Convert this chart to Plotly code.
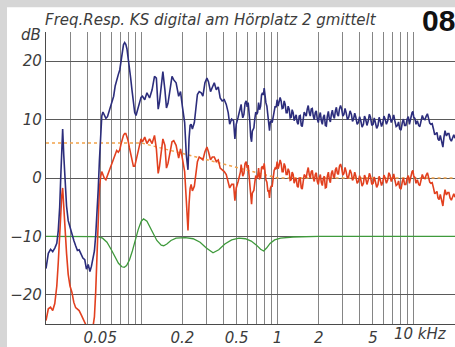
import plotly.graph_objects as go

# Frequency grid of the measured responses (Hz)
freq_hz = [
    20, 20.8, 21.6, 22.4, 23.2, 24, 24.6, 25.2, 25.7, 26.1, 26.5, 27, 27.6, 28.3, 29.1,
    30, 31, 32, 33, 34, 35, 36.2, 37.3, 38.5, 39.6, 40.8, 42, 43.1, 44.2, 45.3, 46.3,
    47.3, 48.3, 49.3, 50.3, 51.3, 52.3, 53.5, 55, 56.5, 58, 59.5, 61, 62.7, 64.4, 66,
    67.8, 69.5, 71, 72.5, 74, 75.5, 77, 78.5, 80, 81.8, 83.5, 85.5, 87.5, 89.5, 91.5,
    93.5, 95.5, 97.5, 99.5,
    102, 106, 110, 115, 120, 125, 129, 133, 136, 139, 144, 149, 153, 157, 161, 168, 173,
    180, 188, 194, 200, 204, 208, 214, 217, 220, 224, 228, 232, 237, 245, 251, 258, 266,
    275, 283, 293, 303, 311, 322, 332, 343, 355, 367, 379, 392, 406, 420, 434, 445, 460,
    475, 486, 497, 513,
    534, 540, 545, 555, 566, 577, 588, 598, 608, 617, 626, 635, 644, 652, 661, 670, 680,
    691, 702, 713, 725, 737, 750, 762, 775, 786, 797, 808, 820, 834, 848, 860, 872, 884,
    897, 912, 927, 943, 959, 975, 992, 1009, 1026, 1043, 1061, 1079, 1098, 1117, 1136,
    1155, 1175, 1195, 1216, 1236, 1257, 1278, 1300, 1322, 1345, 1368, 1392, 1416, 1440,
    1465, 1490, 1515, 1541, 1567, 1594, 1621, 1649, 1677, 1706, 1735, 1765, 1795, 1826,
    1857, 1889, 1921, 1954, 1988, 2022, 2057, 2092, 2128, 2164, 2201, 2239, 2277, 2316,
    2356, 2396, 2437, 2478, 2521, 2564, 2608, 2653, 2698, 2744, 2791, 2839, 2894,
    2950, 3007, 3064, 3122, 3180, 3251, 3324, 3399, 3475, 3541, 3608, 3677, 3747, 3831,
    3916, 3994, 4073, 4164, 4258, 4339, 4421, 4520, 4622, 4710, 4800, 4908, 5018, 5114,
    5211, 5328, 5448, 5552, 5658, 5785, 5914, 6027, 6142, 6280, 6421, 6543, 6668, 6818,
    6971, 7104, 7240, 7402, 7568, 7713, 7860, 8036, 8217, 8374, 8533, 8725, 8921, 9091,
    9264, 9472, 9685, 9825, 9966, 10160, 10350, 10590, 10830, 11040, 11250, 11510, 11770,
    12030, 12300, 12550, 12800, 13050, 13300, 13600, 13900, 14200, 14500, 14750, 15000,
    15300, 15600, 15950, 16300, 16600, 16900, 17300, 17700, 18050, 18400, 18800, 19200,
    19600, 20000,
]

# Response without correction (dB)
resp_plain = [
    -15.5, -12.9, -12.2, -12.6, -12.0, -11.2, -9.0, -5.0, 0.6, 5.0, 8.4, 3.9, -1.0, -4.8, -7.3,
    -8.5, -9.6, -10.7, -11.6, -12.4, -12.3, -13.0, -13.7, -14.0, -15.6, -14.8, -16.0, -15.1, -14.0, -12.5, -9.8,
    -6.5, -2.0, 3.0, 7.8, 10.6, 11.3, 10.7, 10.2, 10.5, 11.4, 12.2, 13.0, 14.0, 15.8, 17.0,
    17.7, 18.5, 20.0, 21.8, 22.8, 23.2, 22.9, 22.1, 20.8, 19.0, 17.2, 15.0, 13.2, 11.2, 10.7,
    11.5, 12.6, 13.5, 13.8,
    14.0, 13.4, 14.6, 13.7, 15.1, 17.4, 17.1, 11.8, 13.0, 15.1, 18.2, 15.1, 12.0, 12.8, 14.6, 17.4, 16.8,
    16.3, 14.0, 14.8, 12.3, 10.5, 9.5, 3.9, 1.8, 1.4, 6.7, 9.0, 9.2, 8.4, 9.5, 12.3, 14.3, 14.8,
    14.6, 14.0, 16.3, 17.1, 16.5, 14.8, 15.6, 16.3, 15.1, 15.6, 13.7, 13.2, 13.4, 12.6, 11.2, 9.2, 10.1,
    9.8, 6.7, 9.2, 10.4,
    11.8, 12.6, 11.5, 10.3, 10.9, 12.8, 13.2, 12.2, 12.9, 11.4, 9.5, 7.0, 6.2, 8.0, 8.4, 8.6, 10.1,
    11.3, 10.9, 11.2, 12.9, 11.7, 12.3, 14.2, 14.6, 14.2, 15.4, 13.4, 12.9, 12.3, 10.6, 9.9, 8.1, 9.6,
    9.8, 9.5, 10.6, 11.9, 12.3, 12.1, 13.4, 12.3, 12.9, 13.8, 13.2, 11.9, 12.0, 13.2, 12.6,
    11.2, 11.2, 12.3, 11.8, 10.3, 10.4, 11.7, 11.2, 9.8, 10.4, 10.8, 9.5, 9.2, 10.6,
    10.7, 9.0, 8.8, 10.1, 11.3, 10.9, 10.6, 11.8, 12.4, 11.2, 10.6, 11.8, 11.9, 10.6,
    10.0, 11.2, 11.5, 10.1, 9.5, 10.6, 11.2, 9.8, 9.2, 10.4, 10.8, 9.0, 8.9, 10.6,
    11.4, 10.1, 9.6, 10.9, 11.6, 10.6, 10.2, 11.5, 12.1, 10.9, 10.6, 11.8, 12.4,
    11.8, 10.6, 10.9, 11.9, 11.2, 10.0, 10.4, 11.5, 10.9, 9.7, 10.1, 11.1, 10.4, 9.2,
    9.5, 10.5, 9.8, 8.7, 9.2, 10.6, 10.1, 9.0, 9.8, 10.9, 10.4, 9.0, 9.2, 10.3,
    9.5, 8.5, 9.0, 10.4, 9.8, 8.8, 9.5, 10.6, 10.1, 9.2, 9.8, 11.0, 10.6, 9.5,
    10.1, 10.8, 9.8, 8.8, 9.0, 9.6, 8.4, 8.2, 9.5, 10.1, 9.0, 9.0, 10.1, 10.5,
    9.2, 10.5, 11.2, 11.4, 10.4, 10.2, 9.2, 9.8, 9.0, 8.8, 9.5, 10.7, 10.1,
    10.0, 10.6, 11.0, 10.2, 9.4, 9.2, 9.3, 8.4, 7.4, 7.6, 7.8, 6.7,
    6.4, 7.3, 6.0, 5.3, 7.0, 8.1, 7.2, 7.6, 7.6, 6.7, 6.3, 7.0,
    7.4, 6.8,
]

# Response with digital room correction (dB)
resp_corr = [
    -24.4, -22.4, -22.1, -22.7, -21.5, -18.5, -14.5, -10.0, -5.0, -3.0, -1.7, -5.0, -9.5, -12.9, -16.5,
    -18.5, -19.6, -21.3, -22.2, -22.4, -22.7, -23.4, -24.0, -24.5, -25.3, -26.0, -26.0, -26.0, -25.5, -23.8, -19.5,
    -13.5, -7.0, -1.8, 0.2, 1.1, 0.6, 0.0, -0.3, 0.4, 1.2, 2.0, 2.7, 3.4, 3.9, 4.7,
    4.4, 4.8, 5.8, 6.7, 7.3, 7.6, 7.6, 7.0, 6.4, 5.2, 4.3, 3.4, 2.0, 2.0, 3.1,
    4.2, 5.0, 6.2, 6.7,
    6.2, 7.0, 5.9, 6.7, 5.9, 7.3, 5.0, 0.8, 2.0, 3.9, 6.7, 5.6, 1.7, 2.5, 3.9, 6.2, 6.4,
    5.6, 3.4, 5.0, 3.4, 2.2, 1.1, -3.9, -7.0, -9.0, -4.5, -1.8, -1.1, -2.2, -1.4, 0.6, 2.8, 3.6,
    3.4, 3.1, 4.5, 5.3, 4.5, 3.1, 3.6, 3.6, 2.8, 3.1, 1.7, 1.4, 1.1, 0.6, -0.6, -1.7, -1.1,
    -1.1, -3.9, -1.7, -0.6,
    1.1, 2.3, 1.7, 0.3, 0.8, 2.5, 2.8, 1.7, 2.2, 0.5, -1.7, -3.9, -4.5, -2.6, -2.2, -2.1, -0.8,
    0.4, 0.0, 0.2, 1.7, -0.1, 0.0, 1.8, 2.0, 1.5, 2.5, 0.4, -0.3, -0.7, -2.2, -2.2, -3.4, -1.8,
    -1.4, -1.4, 0.0, 1.3, 1.7, 1.5, 2.8, 1.6, 2.2, 3.1, 2.5, 1.1, 1.1, 2.5, 2.0,
    0.6, 0.6, 1.6, 1.1, -0.4, -0.3, 1.0, 0.6, -0.9, -0.3, 0.0, -1.4, -1.6, 0.0,
    0.0, -1.7, -1.9, -0.6, 0.6, 0.3, 0.0, 1.1, 1.8, 0.6, 0.0, 1.1, 1.3, 0.0,
    -0.6, 0.6, 0.9, -0.6, -1.1, 0.0, 0.6, -0.8, -1.3, 0.0, 0.3, -1.7, -1.6, 0.3,
    1.0, -0.3, -0.8, 0.8, 1.3, 0.3, 0.0, 1.4, 1.8, 0.8, 0.6, 2.0, 2.4,
    1.7, 0.5, 0.8, 1.8, 1.1, -0.1, 0.3, 1.4, 0.8, -0.4, 0.0, 1.0, 0.3, -0.9,
    -0.6, 0.4, -0.3, -1.4, -0.9, 0.5, 0.0, -1.1, -0.3, 0.8, 0.3, -1.1, -0.9, 0.2,
    -0.6, -1.6, -1.1, 0.3, -0.3, -1.3, -0.6, 0.5, 0.0, -0.9, -0.3, 0.9, 0.5, -0.6,
    0.0, 0.7, -0.3, -1.3, -1.1, -0.5, -1.7, -1.9, -0.6, 0.0, -1.1, -1.1, 0.0, 0.4,
    -0.9, 0.4, 1.1, 1.3, 0.3, 0.1, -0.9, -0.3, -1.1, -1.3, -0.6, 0.6, 0.0,
    -0.1, 0.5, 0.9, 0.1, -0.7, -0.9, -0.8, -1.7, -2.7, -2.5, -2.3, -3.4,
    -3.7, -2.8, -4.1, -4.8, -3.1, -2.0, -2.9, -2.5, -2.5, -3.4, -3.8, -3.1,
    -2.7, -3.3,
]

# Correction filter, drawn with a -10 dB offset
filter_freq_hz = [
    20, 40, 48, 52, 56, 60, 64, 68, 72, 75, 78, 82, 86, 90, 95, 100, 104, 110, 116, 122,
    130, 140, 146, 154, 165, 180, 195, 210, 240, 270, 300, 336, 370, 410, 460, 520, 580,
    640, 700, 750, 790, 830, 880, 950, 1050, 1300, 2000, 20000,
]
filter_db = [
    -10.0, -10.0, -10.05, -10.3, -11.0, -12.2, -13.5, -14.6, -15.2, -15.3, -15.0, -14.0,
    -12.5, -10.8, -8.8, -7.4, -7.0, -7.4, -8.4, -9.6, -10.7, -11.5, -11.6, -11.3, -10.7,
    -10.3, -10.2, -10.2, -10.4, -11.0, -12.0, -12.8, -12.3, -11.3, -10.6, -10.3, -10.4,
    -10.8, -11.5, -12.2, -12.5, -12.0, -11.2, -10.6, -10.3, -10.1, -10.0, -10.0,
]

# Target curve
target_freq_hz = [20, 100, 1000, 20000]
target_db = [6, 6, 0, 0]

# Axis ticks (kHz)
grid_khz = [0.03, 0.04, 0.05, 0.06, 0.07, 0.08, 0.09, 0.1,
            0.2, 0.3, 0.4, 0.5, 0.6, 0.7, 0.8, 0.9, 1,
            2, 3, 4, 5, 6, 7, 8, 9, 10]
labelled_khz = {0.05: "0.05", 0.2: "0.2", 0.5: "0.5", 1: "1", 2: "2", 5: "5"}
y_ticks = [-20, -10, 0, 10, 20]
y_text = ["\u221220", "\u221210", "0", "10", "20"]

W, H = 455, 347
ML, MR, MT, MB = 46, 0, 32, 19
PW, PH = W - ML - MR, H - MT - MB


def px_x(px):
    return (px - ML) / PW


def px_y(py):
    return (H - MB - py) / PH


def khz(values):
    return [v / 1000 for v in values]


fig = go.Figure()
fig.add_trace(go.Scatter(x=khz(filter_freq_hz), y=filter_db, mode="lines",
                         line=dict(color="#3f9a3c", width=1.3), hoverinfo="skip"))
fig.add_trace(go.Scatter(x=khz(target_freq_hz), y=target_db, mode="lines",
                         line=dict(color="#f2a24a", width=1.5, dash="dot"), hoverinfo="skip"))
fig.add_trace(go.Scatter(x=khz(freq_hz), y=resp_corr, mode="lines",
                         line=dict(color="#e2401f", width=1.6), hoverinfo="skip"))
fig.add_trace(go.Scatter(x=khz(freq_hz), y=resp_plain, mode="lines",
                         line=dict(color="#2c2d7c", width=1.6), hoverinfo="skip"))

label_font = dict(family="DejaVu Sans", size=15, color="#3c3c3c", style="italic")

fig.update_xaxes(
    type="log", range=[-1.69897, 1.30103],
    tickvals=grid_khz, ticktext=[labelled_khz.get(v, "") for v in grid_khz],
    showgrid=True, gridcolor="#858585", gridwidth=1.2,
    showline=True, linecolor="#4a4a4a", linewidth=1.3,
    ticks="", tickfont=label_font, zeroline=False,
)
fig.update_yaxes(
    range=[-25, 25], tickvals=y_ticks, ticktext=y_text,
    showgrid=True, gridcolor="#5a5a5a", gridwidth=1.2,
    showline=True, linecolor="#4a4a4a", linewidth=1.3,
    ticks="", tickfont=label_font, zeroline=False,
)

fig.update_layout(
    width=W, height=H, showlegend=False,
    margin=dict(l=ML, r=MR, t=MT, b=MB),
    paper_bgcolor="#d6d6d6", plot_bgcolor="white",
    shapes=[dict(type="rect", xref="paper", yref="paper", layer="below",
                 x0=px_x(7), x1=px_x(W + 5), y0=px_y(H + 5), y1=px_y(7),
                 fillcolor="white", line=dict(width=0))],
    annotations=[
        dict(text="Freq.Resp. KS digital am H\u00f6rplatz 2 gmittelt",
             xref="paper", yref="paper", x=px_x(43), y=px_y(20),
             xanchor="left", yanchor="middle", showarrow=False,
             font=dict(family="DejaVu Sans", size=15, color="#3c3c3c", style="italic")),
        dict(text="<b>08</b>", xref="paper", yref="paper", x=px_x(438), y=px_y(20),
             xanchor="center", yanchor="middle", showarrow=False,
             font=dict(family="Liberation Sans, Arial, sans-serif", size=30, color="#111111")),
        dict(text="dB", xref="paper", yref="paper", x=px_x(43), y=px_y(35),
             xanchor="right", yanchor="middle", showarrow=False, font=label_font),
        dict(text="10 kHz", xref="paper", yref="paper", x=px_x(392), y=px_y(338),
             xanchor="left", yanchor="middle", showarrow=False, font=label_font),
    ],
)

fig.write_html("out.html")
